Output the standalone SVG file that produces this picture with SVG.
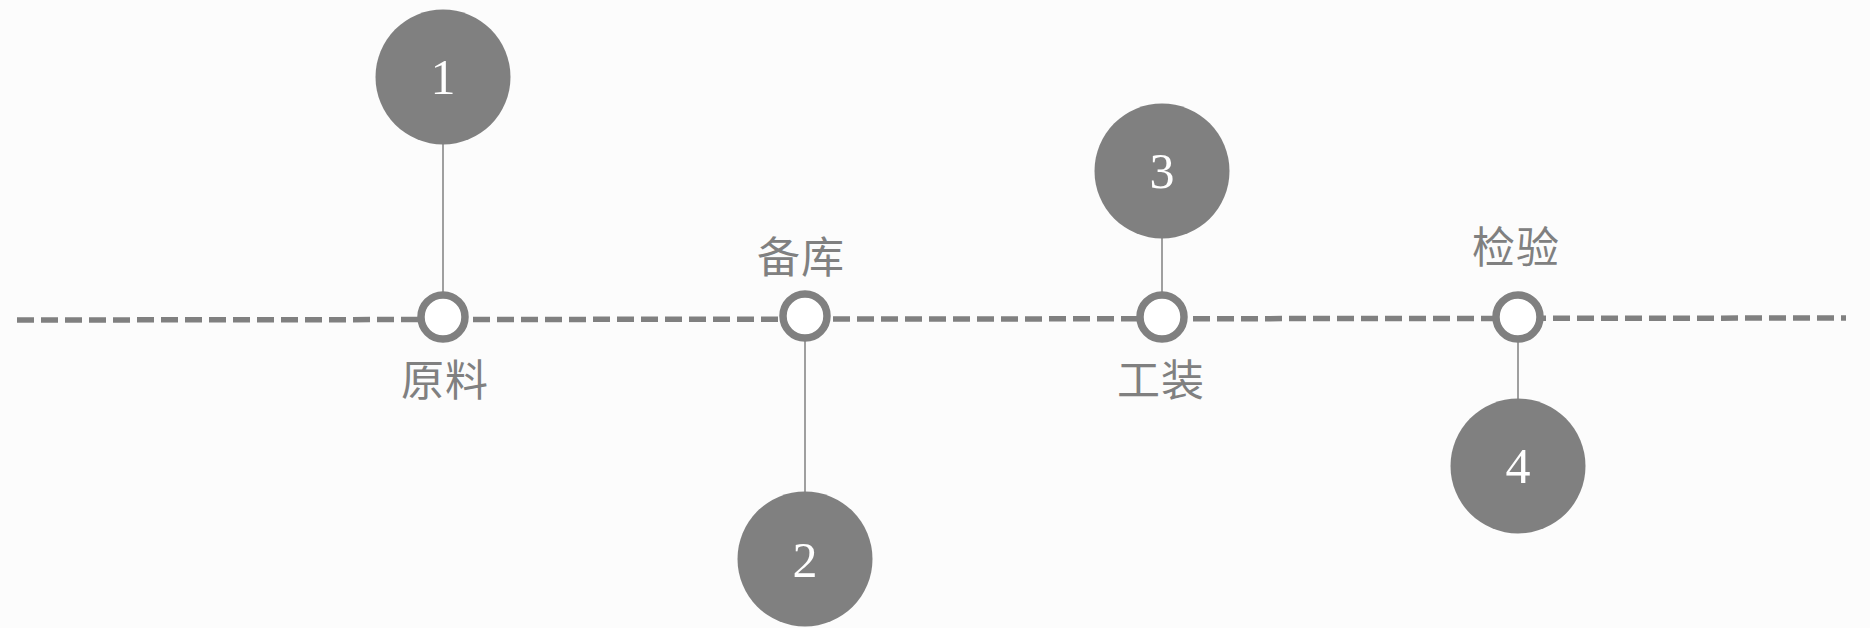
<svg xmlns="http://www.w3.org/2000/svg" width="1870" height="628" viewBox="0 0 1870 628">
  <style>
    .big { fill: #808080; }
    .num { fill: #ffffff; font-family: "Liberation Serif", serif; font-size: 50px; text-anchor: middle; }
    .ring { fill: #ffffff; stroke: #808080; stroke-width: 7.5; }
    .lbl { fill: #808080; font-family: "Noto Sans CJK SC", sans-serif; font-size: 43px; text-anchor: middle; letter-spacing: 1px; }
    .conn { stroke: #808080; stroke-width: 1.5; fill: none; }
    .axis { stroke: #808080; stroke-width: 5.5; stroke-dasharray: 17 7; fill: none; }
  </style>
  <rect width="1870" height="628" fill="#fcfcfc"/>
  <g id="connectors">
    <line class="axis" x1="17" y1="320" x2="1846" y2="318"/>
    <line class="conn" x1="443" y1="144" x2="443" y2="292"/>
    <line class="conn" x1="805" y1="341" x2="805" y2="492"/>
    <line class="conn" x1="1162" y1="238" x2="1162" y2="292"/>
    <line class="conn" x1="1518" y1="342" x2="1518" y2="399"/>
  </g>
  <g id="node1">
    <circle class="big" cx="443" cy="77" r="67.5"/>
    <text class="num" x="443" y="94">1</text>
    <circle class="ring" cx="443" cy="317" r="22"/>
    <text class="lbl" x="445" y="396">原料</text>
  </g>
  <g id="node2">
    <circle class="big" cx="805" cy="559" r="67.5"/>
    <text class="num" x="805" y="577">2</text>
    <circle class="ring" cx="805" cy="316" r="22"/>
    <text class="lbl" x="801" y="273">备库</text>
  </g>
  <g id="node3">
    <circle class="big" cx="1162" cy="171" r="67.5"/>
    <text class="num" x="1162" y="188">3</text>
    <circle class="ring" cx="1162" cy="317" r="22"/>
    <text class="lbl" x="1161" y="396">工装</text>
  </g>
  <g id="node4">
    <circle class="big" cx="1518" cy="466" r="67.5"/>
    <text class="num" x="1518" y="483">4</text>
    <circle class="ring" cx="1518" cy="317" r="22"/>
    <text class="lbl" x="1516" y="263">检验</text>
  </g>
</svg>
